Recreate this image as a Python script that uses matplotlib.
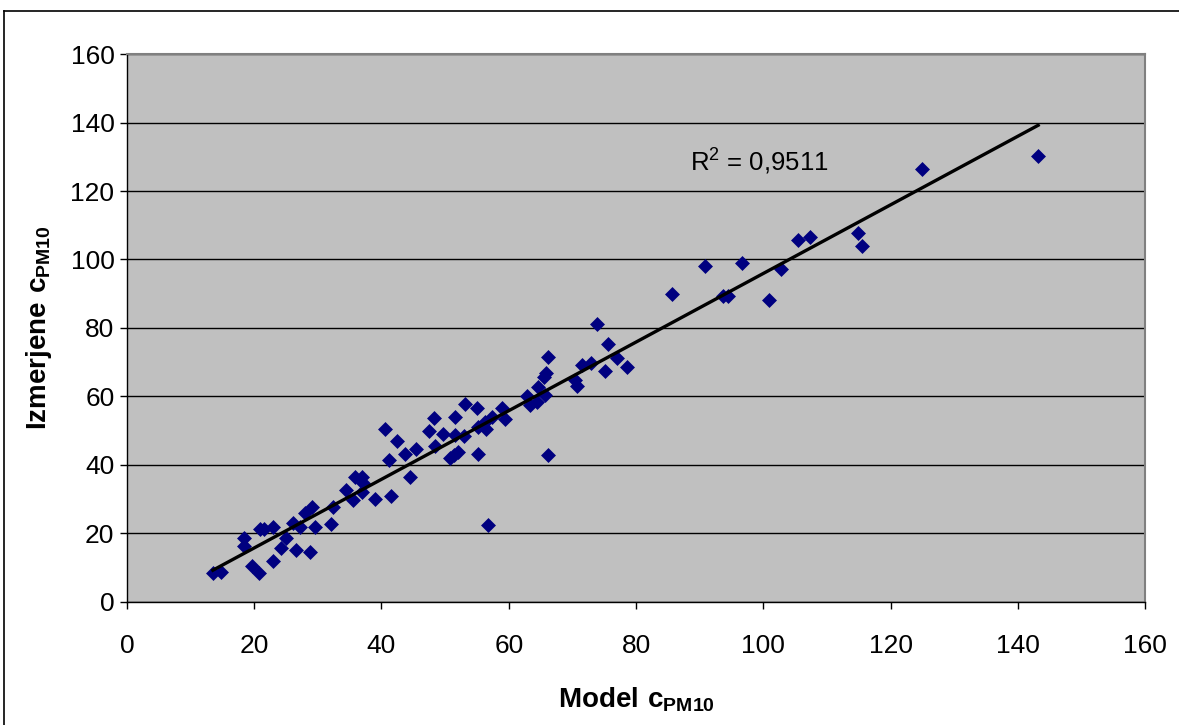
import matplotlib
matplotlib.use("Agg")
import matplotlib.pyplot as plt
import numpy as np

plt.rcParams['font.family'] = ['Liberation Sans', 'DejaVu Sans']
plt.rcParams['mathtext.fontset'] = 'custom'
plt.rcParams['mathtext.rm'] = 'Liberation Sans'
plt.rcParams['mathtext.bf'] = 'Liberation Sans:bold'

model = [
    13.5, 14.7, 18.4, 18.4, 19.6, 20.8, 20.9, 21.6, 22.9, 22.9,
    24.2, 25.0, 26.6, 26.1, 27.2, 28.0, 29.0, 28.7, 29.6, 32.1,
    32.4, 34.5, 35.5, 35.8, 36.9, 37.1, 36.9, 39.0, 41.5, 41.2,
    40.5, 42.4, 43.7, 44.5, 45.5, 47.4, 48.3, 48.4, 49.7, 51.6,
    53.1, 55.0, 51.6, 52.9, 50.8, 51.4, 52.1, 55.2, 55.2, 56.5,
    56.3, 57.3, 58.9, 59.4, 56.8, 62.8, 63.3, 64.4, 64.6, 65.7,
    65.5, 65.9, 66.2, 66.2, 70.4, 70.8, 71.5, 73.0, 73.8, 75.1,
    75.6, 77.0, 78.6, 85.6, 90.8, 93.6, 94.4, 96.6, 100.9, 102.8,
    105.5, 107.3, 114.9, 115.5, 124.9, 143.2,
]
measured = [
    8.4, 8.7, 18.7, 16.4, 10.5, 8.6, 21.2, 21.3, 21.8, 11.9,
    15.7, 18.7, 15.2, 23.2, 21.8, 25.9, 27.8, 14.6, 21.9, 22.8,
    27.8, 32.7, 29.8, 36.4, 36.6, 34.7, 32.2, 30.0, 30.9, 41.5,
    50.6, 46.9, 43.1, 36.6, 44.7, 50.0, 53.6, 45.5, 49.1, 53.9,
    57.8, 56.6, 48.8, 48.5, 42.0, 42.9, 43.9, 43.2, 51.2, 50.4,
    52.6, 54.1, 56.6, 53.3, 22.5, 60.1, 57.5, 58.5, 62.7, 60.4,
    65.6, 66.8, 71.4, 42.9, 64.8, 63.1, 69.2, 69.7, 81.2, 67.5,
    75.2, 71.2, 68.5, 89.9, 98.1, 89.4, 89.4, 99.1, 88.2, 97.3,
    105.7, 106.7, 107.8, 103.9, 126.3, 130.2,
]
r2_text = "0,9511"

x = np.array(model)
y = np.array(measured)

fig = plt.figure(figsize=(11.79, 7.25), dpi=100)
ax = fig.add_axes([0.1077, 0.1697, 0.8635, 0.7558])
ax.set_facecolor('#C0C0C0')

ax.scatter(x, y, marker='D', s=58, color='#000080', zorder=3, linewidths=0)

k, n = np.polyfit(x, y, 1)
xs = np.array([x.min(), x.max()])
ax.plot(xs, k * xs + n, color='black', lw=2.4, zorder=4)

ax.text(88.5, 129, r"R$^2$ = " + r2_text, fontsize=18.5, va='center', ha='left')

ax.set_xlim(0, 160)
ax.set_ylim(0, 160)
ax.set_xticks(range(0, 161, 20))
ax.set_yticks(range(0, 161, 20))
ax.tick_params(labelsize=19, length=5, width=1, direction='out', colors='black')
ax.tick_params(axis='x', pad=18)
ax.tick_params(axis='y', pad=4)

ax.grid(axis='y', color='black', lw=1)
ax.set_axisbelow(True)
for side in ['top', 'right']:
    ax.spines[side].set_color('#808080')
    ax.spines[side].set_linewidth(1.5)
for side in ['left', 'bottom']:
    ax.spines[side].set_color('black')
    ax.spines[side].set_linewidth(1)

ax.set_xlabel(r"$\mathbf{Model\ c_{PM10}}$", fontsize=20, labelpad=20)
ax.set_ylabel(r"$\mathbf{Izmerjene\ c_{PM10}}$", fontsize=20, labelpad=12)

# chart border
fig.add_artist(plt.Line2D([4 / 1179, 4 / 1179], [0, 1 - 11 / 725], color='black', lw=1.2))
fig.add_artist(plt.Line2D([4 / 1179, 1], [1 - 11 / 725, 1 - 11 / 725], color='black', lw=1.2))

fig.savefig("out.png", dpi=100)
